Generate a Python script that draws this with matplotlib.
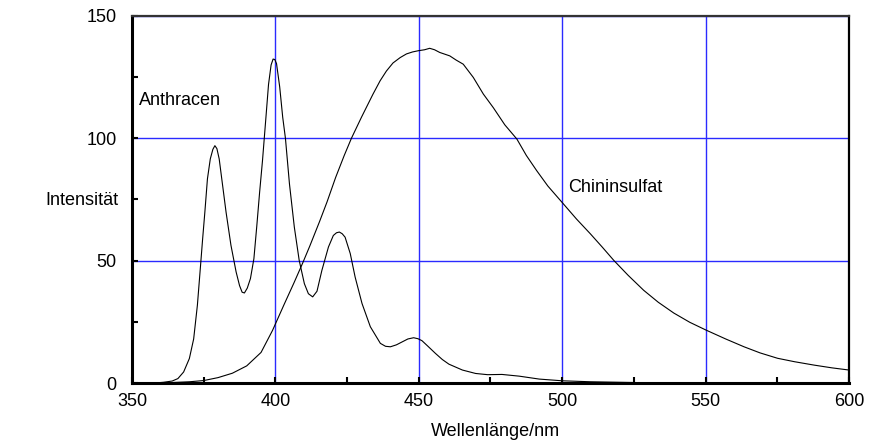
import matplotlib
matplotlib.use("Agg")
import matplotlib.pyplot as plt
from matplotlib.ticker import MultipleLocator

# Anthracen emission spectrum
anth_x = [358, 361, 364, 366, 368, 370, 371.5, 372.8, 374, 374.6, 375.4, 376.3,
          377.3, 378.2, 378.9, 379.6, 380.4, 381.6, 382.8, 384.5, 386.3, 387.5,
          388.4, 389.2, 390.2, 391.3, 392.5, 393.5, 394.5, 395.5, 396.7, 397.6,
          398.5, 399.2, 399.8, 400.4, 401.5, 402.55, 403.5, 404.9, 406.6, 408.3,
          410.1, 411.5, 413.0, 414.5, 416.2, 418.5, 420.2, 421.3, 422.3, 423.3,
          424.3, 426.1, 427.8, 430.2, 433.1, 436.6, 438.4, 440.1, 442.2, 444.2,
          446.2, 448.2, 449.7, 451.1, 453.2, 455.8, 458.2, 460.5, 465.2, 469.8,
          474, 479, 485, 492, 500, 510, 520, 530, 540]
anth_y = [0, 0.3, 0.8, 1.8, 4.5, 10, 18, 31.8, 49.5, 58.5, 69.8, 83.4,
          91.6, 95.5, 97.0, 95.8, 91.6, 80.7, 69.8, 56.3, 45.4, 39.8,
          37.1, 36.8, 38.8, 42.7, 50.8, 64, 78, 90.9, 108.6, 122,
          130, 132.4, 132.2, 130.5, 121, 108.6, 100, 81.4, 63.7, 50.1,
          40.6, 36.5, 35.2, 37.5, 46, 55.6, 60.3, 61.4, 61.7, 61,
          59.6, 52.9, 43.3, 32.5, 23, 16.2, 15, 14.8, 15.6, 16.8,
          18, 18.5, 18.1, 17.3, 15, 12.1, 9.6, 7.7, 5.3, 3.9,
          3.4, 3.5, 2.8, 1.6, 0.9, 0.5, 0.3, 0.1, 0]

# Chininsulfat emission spectrum
chin_x = [360, 370, 375, 380, 385, 390, 395, 399, 403, 406.5, 409.5, 412, 415.4,
          418, 421, 424, 426.5, 430, 434, 436.5, 438.7, 441, 443.5, 445.7, 447.8,
          449.8, 452, 453.8, 455.5, 457.3, 460.8, 463, 465.5, 469, 472.5, 476, 480,
          484.2, 487.5, 491.1, 495, 499.9, 505, 509.8, 514, 518, 523, 528.4, 533.5,
          538.9, 544.5, 550.2, 557, 563.4, 569, 575.1, 581, 587.9, 594, 600]
chin_y = [0, 0.5, 1, 2.2, 4, 7, 12.5, 21.5, 32, 41, 49, 56, 66,
          74, 84, 93, 100, 108.6, 118, 123.5, 127.5, 130.8, 133, 134.5, 135.3,
          135.8, 136.2, 136.8, 136.2, 135.1, 133.7, 132, 130.3, 124.9, 118.1, 112.5, 105.5,
          99.7, 93, 86.8, 80.5, 73.9, 67, 61, 55.5, 50.1, 44, 37.9, 33,
          28.6, 24.8, 21.6, 18, 14.8, 12.3, 10.1, 8.7, 7.3, 6.2, 5.3]

plt.rcParams['font.family'] = ['Liberation Sans', 'DejaVu Sans']
FS = 13

fig = plt.figure(figsize=(8.74, 4.44), dpi=100)
ax = fig.add_axes([132/874, 61/444, 717/874, 367/444])

ax.set_xlim(350, 600)
ax.set_ylim(0, 150)
ax.xaxis.set_major_locator(MultipleLocator(50))
ax.xaxis.set_minor_locator(MultipleLocator(25))
ax.yaxis.set_major_locator(MultipleLocator(50))
ax.yaxis.set_minor_locator(MultipleLocator(25))

ax.grid(True, which='major', color='#2a2aff', linewidth=1.0, zorder=1)
ax.set_axisbelow(True)

ax.plot(anth_x, anth_y, color='black', linewidth=0.8, zorder=3,
        solid_joinstyle='round')
ax.plot(chin_x, chin_y, color='black', linewidth=0.8, zorder=3,
        solid_joinstyle='round')

# spines: left/bottom heavier
for s in ['left', 'bottom']:
    ax.spines[s].set_linewidth(2.2)
for s in ['top', 'right']:
    ax.spines[s].set_linewidth(1.6)
ax.spines['top'].set_color('#333333')

ax.tick_params(which='both', direction='in', width=1.5, top=False, right=False)
ax.tick_params(which='major', length=4)
ax.tick_params(which='minor', length=4)
ax.tick_params(axis='x', pad=7, labelsize=FS)
ax.tick_params(axis='y', pad=11, labelsize=FS)

ax.text(352.4, 115.4, 'Anthracen', fontsize=FS, va='center', ha='left')
ax.text(502.1, 79.9, 'Chininsulfat', fontsize=FS, va='center', ha='left')

fig.text(118/874, 1 - 200/444, 'Intensität', fontsize=FS, ha='right', va='center')
fig.text(495/874, 1 - 431/444, 'Wellenlänge/nm', fontsize=FS, ha='center', va='center')

fig.savefig('out.png', dpi=100)
